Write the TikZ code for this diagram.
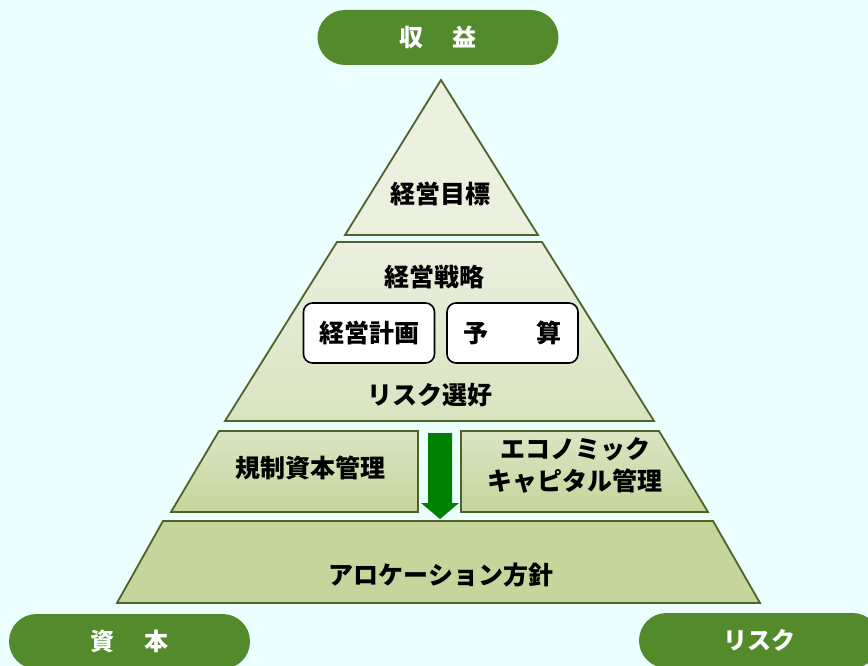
\documentclass[tikz,border=0pt]{standalone}
\usepackage{fontspec}
\setmainfont{Noto Sans CJK JP}
\definecolor{bgcyan}{HTML}{EBFFFF}
\definecolor{pillgreen}{HTML}{538A2C}
\definecolor{edgeolive}{HTML}{4F6228}
\definecolor{olivea}{HTML}{EBF0DF}
\definecolor{oliveb}{HTML}{D8E4BF}
\definecolor{olivec}{HTML}{C4D69C}
\definecolor{arrowgreen}{HTML}{008000}
\tikzset{
  layer/.style={draw=edgeolive,line width=1.8pt,line join=miter},
  lbl/.style={font=\bfseries\fontsize{25pt}{32pt}\selectfont,text=black,align=center,inner sep=0pt},
  pillbox/.style={fill=pillgreen,rounded corners=27.5pt,minimum width=241pt,minimum height=55pt,
    inner sep=0pt,text=white,font=\bfseries\fontsize{24pt}{28pt}\selectfont},
  planbox/.style={draw=black,line width=1.6pt,fill=white,rounded corners=9pt,
    minimum width=131pt,minimum height=60pt,inner sep=0pt,font=\bfseries\fontsize{25pt}{30pt}\selectfont}
}
\begin{document}
\begin{tikzpicture}[x=1pt,y=-1pt]
\useasboundingbox (0,0) rectangle (868,666);
\fill[bgcyan] (0,0) rectangle (868,666);
\draw[layer,fill=olivea] (441,80)--(538,235)--(345,235)--cycle;
\draw[layer,top color=olivea,bottom color=oliveb] (337,242)--(542,242)--(654,421)--(225,421)--cycle;
\draw[layer,top color=oliveb!90!olivea,bottom color=olivec] (219,431)--(418,431)--(418,512)--(171,512)--cycle;
\draw[layer,top color=oliveb!90!olivea,bottom color=olivec] (461,431)--(659,431)--(708,512)--(461,512)--cycle;
\draw[layer,fill=olivec] (163,521)--(713,521)--(760,603)--(117,603)--cycle;
\fill[arrowgreen] (428,433)--(452,433)--(452,503)--(459,503)--(440,519)--(421,503)--(428,503)--cycle;
\node[lbl] (goal) at (440,194) {経営目標};
\node[lbl] (strategy) at (434,277) {経営戦略};
\node[planbox] (plan) at (369,333) {経営計画};
\node[planbox] (budget) at (512.5,333) {予\hspace{48pt}算};
\node[lbl] (appetite) at (430,395) {リスク選好};
\node[lbl] (regcap) at (310,468) {規制資本管理};
\node[lbl] (ecocap) at (575,465) {エコノミック\\キャピタル管理};
\node[lbl] (alloc) at (441,575) {アロケーション方針};
\node[pillbox] (revenue) at (438,37.5) {収\hspace{29pt}益};
\node[pillbox] (capital) at (129.5,641.5) {資\hspace{30pt}本};
\node[pillbox] (risk) at (759.5,640.5) {リスク};
\end{tikzpicture}
\end{document}
